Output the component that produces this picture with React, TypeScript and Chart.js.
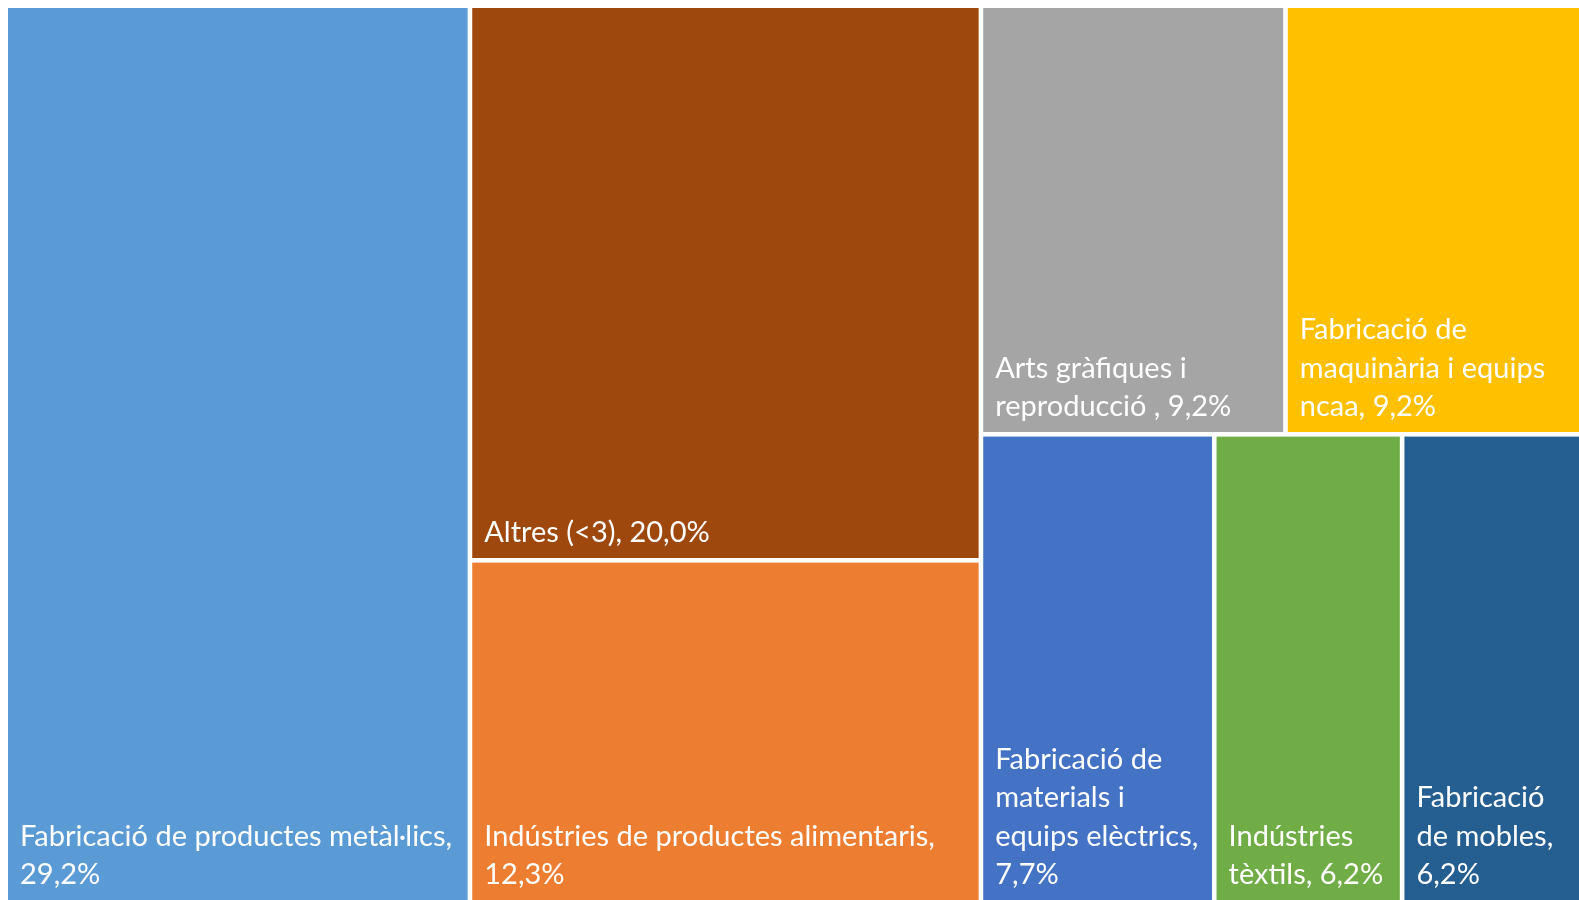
import React, { useEffect, useRef } from "react";
import { Chart, registerables } from "chart.js";

Chart.register(...registerables);

// ---- data ----
const categories: string[] = [
  "Fabricació de productes metàl·lics",
  "Altres (<3)",
  "Indústries de productes alimentaris",
  "Arts gràfiques i reproducció ",
  "Fabricació de maquinària i equips ncaa",
  "Fabricació de materials i equips elèctrics",
  "Indústries tèxtils",
  "Fabricació de mobles",
];
const shares: number[] = [29.2, 20.0, 12.3, 9.2, 9.2, 7.7, 6.2, 6.2];
const cellColors: string[] = [
  "#5B9BD5",
  "#9E480E",
  "#ED7D31",
  "#A5A5A5",
  "#FFC000",
  "#4472C4",
  "#70AD47",
  "#255E91",
];

const FONT = "29px Lato";
const GAP = 2.3;
const PAD_L = 12;
const PAD_R = 10;
const PAD_B = 16;
const LINE_H = 38.5;

type Cell = { i: number; x: number; y: number; w: number; h: number };

function worst(areas: number[], side: number): number {
  const sum = areas.reduce((a, b) => a + b, 0);
  const t = sum / side;
  let w = 0;
  for (const a of areas) {
    const len = a / t;
    w = Math.max(w, t / len, len / t);
  }
  return w;
}

// squarified-style layout, computed in pixel proportions
function layout(values: number[], W: number, H: number): Cell[] {
  const total = values.reduce((a, b) => a + b, 0);
  const order = values.map((v, i) => i).sort((a, b) => values[b] - values[a]);
  const areas = order.map((i) => (values[i] / total) * W * H);
  const cells: Cell[] = [];
  let rx = 0, ry = 0, rw = W, rh = H;
  let idx = 0;
  const n = order.length;
  while (idx < n) {
    const remaining = n - idx;
    if (remaining <= 3) {
      const sub = areas.slice(idx);
      const sum = sub.reduce((a, b) => a + b, 0);
      let cx = rx, cy = ry;
      for (let k = 0; k < sub.length; k++) {
        if (rw >= rh) {
          const w = (sub[k] / sum) * rw;
          cells.push({ i: order[idx + k], x: cx, y: ry, w, h: rh });
          cx += w;
        } else {
          const h = (sub[k] / sum) * rh;
          cells.push({ i: order[idx + k], x: rx, y: cy, w: rw, h });
          cy += h;
        }
      }
      break;
    }
    const short = Math.min(rw, rh);
    let row = [areas[idx]];
    let best = worst(row, short);
    while (idx + row.length < n) {
      const cand = row.concat([areas[idx + row.length]]);
      const wv = worst(cand, short);
      if (wv > best) break;
      row = cand;
      best = wv;
    }
    const sum = row.reduce((a, b) => a + b, 0);
    if (rw >= rh) {
      const t = sum / rh;
      let cy = ry;
      row.forEach((a, k) => {
        const h = a / t;
        cells.push({ i: order[idx + k], x: rx, y: cy, w: t, h });
        cy += h;
      });
      rx += t;
      rw -= t;
    } else {
      const t = sum / rw;
      let cx = rx;
      row.forEach((a, k) => {
        const w = a / t;
        cells.push({ i: order[idx + k], x: cx, y: ry, w, h: t });
        cx += w;
      });
      ry += t;
      rh -= t;
    }
    idx += row.length;
  }
  return cells;
}

function fmt(v: number): string {
  return v.toFixed(1).replace(".", ",") + "%";
}

function wrap(ctx: CanvasRenderingContext2D, text: string, maxW: number): string[] {
  const words = text.split(/\s+/).filter((w) => w.length > 0);
  const lines: string[] = [];
  let cur = "";
  for (const w of words) {
    const test = cur ? cur + " " + w : w;
    if (cur && ctx.measureText(test).width > maxW) {
      lines.push(cur);
      cur = w;
    } else {
      cur = test;
    }
  }
  if (cur) lines.push(cur);
  return lines;
}

const treemapPlugin = {
  id: "treemapCells",
  afterDatasetsDraw(chart: any) {
    const { ctx, chartArea } = chart;
    const xs = chart.scales.x;
    const ys = chart.scales.y;
    const W = chartArea.right - chartArea.left;
    const H = chartArea.bottom - chartArea.top;
    const cells = layout(shares, W, H);
    ctx.save();
    for (const c of cells) {
      let x0 = xs.getPixelForValue((c.x / W) * 100);
      let x1 = xs.getPixelForValue(((c.x + c.w) / W) * 100);
      let y0 = ys.getPixelForValue((c.y / H) * 100);
      let y1 = ys.getPixelForValue(((c.y + c.h) / H) * 100);
      if (x0 > chartArea.left + 0.5) x0 += GAP;
      if (x1 < chartArea.right - 0.5) x1 -= GAP;
      if (y0 > chartArea.top + 0.5) y0 += GAP;
      if (y1 < chartArea.bottom - 0.5) y1 -= GAP;
      ctx.fillStyle = cellColors[c.i];
      ctx.fillRect(x0, y0, x1 - x0, y1 - y0);

      ctx.font = FONT;
      ctx.fillStyle = "#FFFFFF";
      ctx.textAlign = "left";
      ctx.textBaseline = "alphabetic";
      const label = categories[c.i] + ", " + fmt(shares[c.i]);
      const lines = wrap(ctx, label, x1 - x0 - PAD_L - PAD_R);
      const lastY = y1 - PAD_B;
      lines.forEach((ln, k) => {
        const y = lastY - (lines.length - 1 - k) * LINE_H;
        ctx.fillText(ln, x0 + PAD_L, y);
      });
    }
    ctx.restore();
  },
};

export default function App() {
  const ref = useRef<HTMLCanvasElement | null>(null);
  useEffect(() => {
    if (!ref.current) return;
    const chart = new Chart(ref.current, {
      type: "scatter",
      data: {
        datasets: [
          {
            label: "Cel·les",
            data: [],
            pointRadius: 0,
          },
        ],
      },
      options: {
        animation: false,
        responsive: false,
        layout: { padding: 0 },
        scales: {
          x: { type: "linear", min: 0, max: 100, display: false },
          y: { type: "linear", min: 0, max: 100, reverse: true, display: false },
        },
        plugins: {
          legend: { display: false },
          tooltip: { enabled: false },
        },
      },
      plugins: [treemapPlugin],
    });
    return () => chart.destroy();
  }, []);
  return (
    <div
      style={{
        position: "fixed",
        left: 8,
        top: 8,
        width: 1571,
        height: 892,
        overflow: "hidden",
      }}
    >
      <canvas ref={ref} width={1582} height={892} style={{ display: "block" }} />
    </div>
  );
}
